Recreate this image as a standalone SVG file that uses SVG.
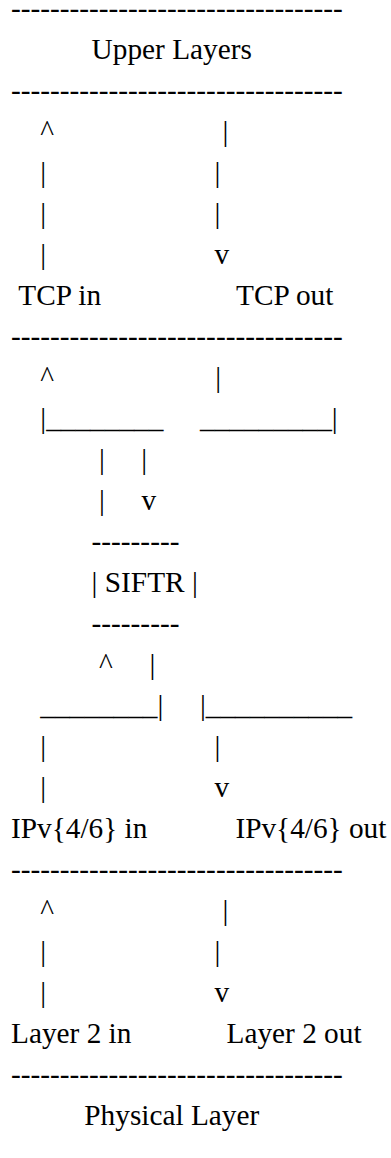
<svg xmlns="http://www.w3.org/2000/svg" width="391" height="1158" viewBox="0 0 391 1158">
<style>
text{font-family:"Liberation Serif","Times New Roman",serif;font-size:29.3px;fill:#000;}
</style>
<rect x="0" y="0" width="391" height="1158" fill="#fff"/>
<g id="upper-layers">
<text x="11" y="17.5">----------------------------------</text>
<text x="91.6" y="58.5">Upper Layers</text>
<text x="11" y="99.6">----------------------------------</text>
</g>
<g id="tcp">
<text x="18.3" y="304.7">TCP in</text>
<text x="236" y="304.7">TCP out</text>
<text x="11" y="345.8">----------------------------------</text>
</g>
<g id="siftr">
<text x="91.6" y="551">---------</text>
<text x="91.6" y="592">| SIFTR |</text>
<text x="91.6" y="633">---------</text>
</g>
<g id="ip">
<text x="11" y="838.1">IPv{4/6} in</text>
<text x="235.4" y="838.1">IPv{4/6} out</text>
<text x="11" y="879.2">----------------------------------</text>
</g>
<g id="layer2">
<text x="11" y="1043.3">Layer 2 in</text>
<text x="226.5" y="1043.3">Layer 2 out</text>
<text x="11" y="1084.3">----------------------------------</text>
</g>
<g id="physical-layer">
<text x="84.3" y="1125.3">Physical Layer</text>
</g>
<g id="connectors">
<text x="40.3" y="140.6">^</text><text x="222.6" y="140.6">|</text>
<text x="40.3" y="181.6">|</text><text x="214.6" y="181.6">|</text>
<text x="40.3" y="222.7">|</text><text x="214.6" y="222.7">|</text>
<text x="40.3" y="263.7">|</text><text x="214.6" y="263.7">v</text>
<text x="40.3" y="386.8">^</text><text x="215.3" y="386.8">|</text>
<text x="40.3" y="427.8">|________</text><text x="200" y="427.8">_________|</text>
<text x="98.9" y="468.9">|</text><text x="141.3" y="468.9">|</text>
<text x="98.9" y="509.9">|</text><text x="141.6" y="509.9">v</text>
<text x="98.9" y="674.1">^</text><text x="149.4" y="674.1">|</text>
<text x="40.3" y="715.1">________|</text><text x="199.9" y="715.1">|__________</text>
<text x="40.3" y="756.1">|</text><text x="214.6" y="756.1">|</text>
<text x="40.3" y="797.1">|</text><text x="214.6" y="797.1">v</text>
<text x="40.3" y="920.2">^</text><text x="222.6" y="920.2">|</text>
<text x="40.3" y="961.2">|</text><text x="214.6" y="961.2">|</text>
<text x="40.3" y="1002.2">|</text><text x="214.6" y="1002.2">v</text>
</g>
</svg>
